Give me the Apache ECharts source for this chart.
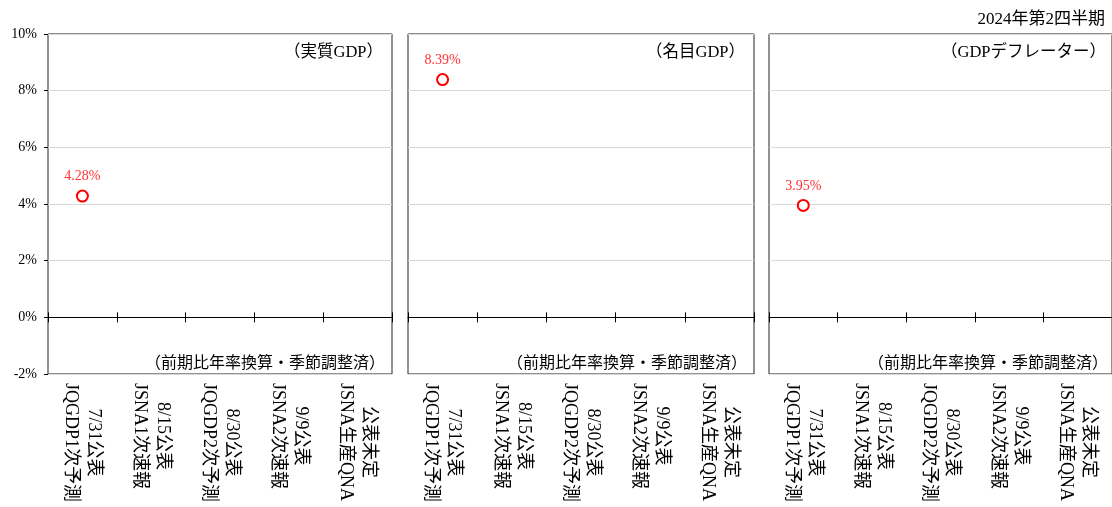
<!DOCTYPE html>
<html><head><meta charset="utf-8">
<script src="https://cdn.jsdelivr.net/npm/echarts@6/dist/echarts.min.js"></script>
<style>html,body{margin:0;padding:0;background:#fff}#c{width:1112px;height:507px}</style>
</head><body><div id="c"></div>
<script>
const categories = [
  "7/31公表\nJQGDP1次予測",
  "8/15公表\nJSNA1次速報",
  "8/30公表\nJQGDP2次予測",
  "9/9公表\nJSNA2次速報",
  "公表未定\nJSNA生産QNA"
];
const realGDP = [4.28, null, null, null, null];
const nominalGDP = [8.39, null, null, null, null];
const deflator = [3.95, null, null, null, null];
const panelTitles = ["（実質GDP）", "（名目GDP）", "（GDPデフレーター）"];
const noteText = "（前期比年率換算・季節調整済）";
const mainTitle = "2024年第2四半期";
const yTicks = [-2, 0, 2, 4, 6, 8, 10];

const FONT = '"Liberation Serif","Noto Sans CJK JP",serif';
const panels = [
  {left: 48, width: 344, data: realGDP},
  {left: 408, width: 346, data: nominalGDP},
  {left: 769, width: 346, data: deflator}
];
const TOP = 34, H = 340;
const zeroY = TOP + H * (yTicks[yTicks.length - 1] - 0) / (yTicks[yTicks.length - 1] - yTicks[0]);

const grids = [], xAxes = [], yAxes = [], series = [], titles = [];
panels.forEach((p, i) => {
  grids.push({left: p.left, top: TOP, width: p.width, height: H, show: true,
    borderColor: '#222', borderWidth: 1, backgroundColor: 'transparent'});
  // tick strip grid crossing the zero line
  grids.push({left: p.left, top: zeroY - 5, width: p.width, height: 10, show: false});
  const g = i * 2;
  // label axis at bottom
  xAxes.push({gridIndex: g, type: 'category', data: categories, position: 'bottom',
    axisLine: {show: false, onZero: false}, axisTick: {show: false},
    axisLabel: {rotate: -90, margin: 9, interval: 0, color: '#000', fontFamily: FONT, fontSize: 18,
      lineHeight: 23,
      formatter: v => v.split('\n').map(s => '{a|' + s + '}').join('\n'),
      rich: {a: {align: 'center', fontFamily: FONT, fontSize: 18, color: '#000', lineHeight: 23}}}});
  // zero axis line
  xAxes.push({gridIndex: g, type: 'category', data: categories, position: 'top',
    axisLine: {show: true, onZero: true, lineStyle: {color: '#000', width: 1}},
    axisTick: {show: false}, axisLabel: {show: false}});
  // tick strip axis
  xAxes.push({gridIndex: g + 1, type: 'category', data: categories, position: 'bottom',
    axisLine: {show: false, onZero: false},
    axisTick: {show: true, inside: true, interval: 0, length: 10, lineStyle: {color: '#000'}},
    axisLabel: {show: false}});
  yAxes.push({gridIndex: g, type: 'value', min: yTicks[0], max: yTicks[yTicks.length - 1], interval: 2,
    axisLine: {show: false},
    axisTick: {show: i === 0, length: 4, lineStyle: {color: '#000'}},
    axisLabel: {show: i === 0, margin: 11, color: '#000', fontFamily: FONT, fontSize: 14,
      formatter: v => v + '%'},
    splitLine: {show: true, lineStyle: {color: '#d9d9d9', width: 1}}});
  yAxes.push({gridIndex: g + 1, type: 'value', show: false, min: 0, max: 1});
  series.push({type: 'line', xAxisIndex: i * 3, yAxisIndex: g, data: p.data,
    symbol: 'emptyCircle', symbolSize: 11, showSymbol: true,
    itemStyle: {color: '#ff0000', borderColor: '#ff0000', borderWidth: 1.5},
    lineStyle: {width: 0},
    label: {show: true, position: 'top', distance: 6, color: '#ff3333', fontFamily: FONT, fontSize: 14,
      formatter: d => d.value == null ? '' : d.value.toFixed(2) + '%'},
    emphasis: {disabled: true}, silent: true, animation: false});
  const rightPos = 1112 - (p.left + p.width) + 5;
  titles.push({text: panelTitles[i], right: rightPos - 1, top: 39,
    textStyle: {fontFamily: FONT, fontSize: 16.5, fontWeight: 'normal', color: '#000'}});
  titles.push({text: noteText, right: rightPos - 3, top: 351,
    textStyle: {fontFamily: FONT, fontSize: 16, fontWeight: 'normal', color: '#000'}});
});
titles.push({text: mainTitle, right: 2, top: 6,
  textStyle: {fontFamily: FONT, fontSize: 17, fontWeight: 'normal', color: '#000'}});

const chart = echarts.init(document.getElementById('c'));
chart.setOption({animation: false, title: titles, grid: grids, xAxis: xAxes, yAxis: yAxes, series: series});
</script></body></html>
